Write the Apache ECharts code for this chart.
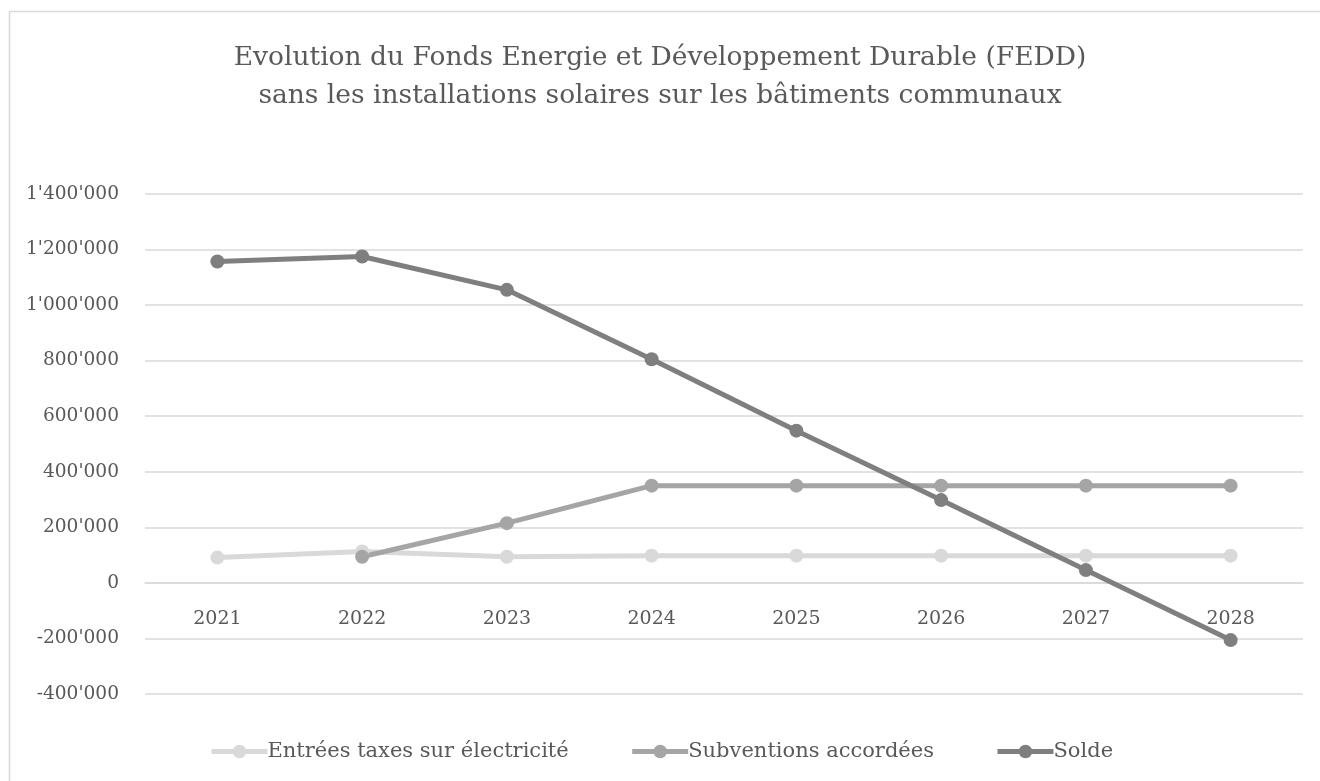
<!DOCTYPE html>
<html>
<head>
<meta charset="utf-8">
<script src="https://cdn.jsdelivr.net/npm/echarts@6/dist/echarts.min.js"></script>
<style>
html,body{margin:0;padding:0;background:#fff;}
#c{width:1320px;height:781px;}
</style>
</head>
<body>
<div id="c"></div>
<script>
var categories = ['2021','2022','2023','2024','2025','2026','2027','2028'];
var entrees = [91000, 113000, 94000, 98000, 98000, 98000, 98000, 98000];
var subventions = [null, 94000, 215000, 350000, 350000, 350000, 350000, 350000];
var solde = [1157000, 1175000, 1055000, 805000, 548000, 298000, 46000, -206000];
var seriesNames = ['Entrées taxes sur électricité', 'Subventions accordées', 'Solde'];
var titleLines = ['Evolution du Fonds Energie et Développement Durable (FEDD)', 'sans les installations solaires sur les bâtiments communaux'];

function fmt(v){
  var neg = v < 0; var s = String(Math.abs(v));
  s = s.replace(/\B(?=(\d{3})+(?!\d))/g, "'");
  return (neg ? '-' : '') + s;
}

var FONT = '"DejaVu Serif", serif';
var chart = echarts.init(document.getElementById('c'));
function mk(name, data, color){
  return {
    name: name, type: 'line', data: data, symbol: 'circle', symbolSize: 14,
    lineStyle: {color: color, width: 5}, itemStyle: {color: color},
    connectNulls: false, animation: false
  };
}
chart.setOption({
  animation: false,
  backgroundColor: '#fff',
  graphic: [{
    type: 'rect', shape: {x: 9.5, y: 11.5, width: 1400, height: 900},
    style: {fill: null, stroke: '#d9d9d9', lineWidth: 1.5}, z: -1
  }],
  title: {
    text: titleLines.join('\n'), left: 'center', top: 34,
    textStyle: {fontFamily: FONT, fontSize: 26.5, fontWeight: 'normal', color: '#595959', lineHeight: 38}
  },
  grid: {left: 145, right: 17, top: 194, bottom: 87, containLabel: false},
  xAxis: {
    type: 'category', data: categories, boundaryGap: true, offset: -111,
    axisLine: {show: true, onZero: false, lineStyle: {color: '#d9d9d9', width: 1.5}},
    axisTick: {show: false},
    axisLabel: {margin: 27, fontFamily: FONT, fontSize: 19, color: '#595959'}
  },
  yAxis: {
    type: 'value', min: -400000, max: 1400000, interval: 200000,
    axisLine: {show: false}, axisTick: {show: false},
    splitLine: {lineStyle: {color: '#d9d9d9', width: 1.5}},
    axisLabel: {margin: 26, fontFamily: FONT, fontSize: 18.6, color: '#595959', formatter: fmt}
  },
  legend: {
    data: seriesNames, left: 204, top: 736, itemWidth: 56, itemHeight: 17, itemGap: 61,
    lineStyle: {width: 5},
    textStyle: {fontFamily: FONT, fontSize: 21, color: '#595959', padding: [0,0,0,-5]}
  },
  series: [
    mk(seriesNames[0], entrees, '#d9d9d9'),
    mk(seriesNames[1], subventions, '#a5a5a5'),
    mk(seriesNames[2], solde, '#7f7f7f')
  ]
});
</script>
</body>
</html>
